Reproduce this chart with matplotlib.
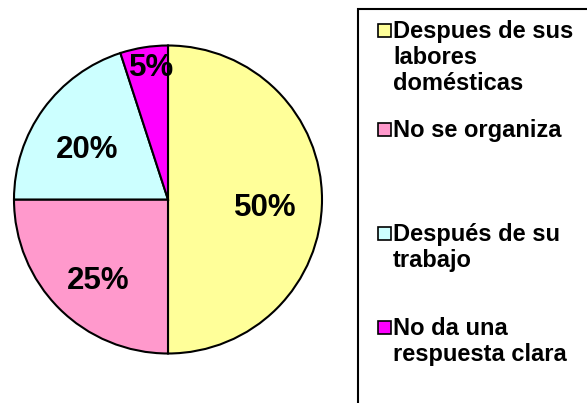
import matplotlib.pyplot as plt
from matplotlib.patches import Rectangle
import numpy as np

# Data
labels = ["Despues de sus\nlabores\ndomésticas",
          "No se organiza",
          "Después de su\ntrabajo",
          "No da una\nrespuesta clara"]
values = [50, 25, 20, 5]
colors = ["#FFFF99", "#FF99CC", "#CCFFFF", "#FF00FF"]

# label placement per wedge: distance (fraction of radius), angle shift (deg)
label_dist = [0.635, 0.68, 0.63, 0.88]
label_shift = [-3, 3, 3, -2]

W, H = 587, 403
plt.rcParams['font.family'] = ['Liberation Sans', 'DejaVu Sans']
fig = plt.figure(figsize=(W / 100, H / 100), dpi=100)

# pie axes: centre (168, 199.5) px, radius 154 px
cx, cy, r = 168, 199.5, 154
pad = 1.05
ax = fig.add_axes([(cx - r * pad) / W, (H - cy - r * pad) / H,
                   2 * r * pad / W, 2 * r * pad / H])
wedges, _ = ax.pie(values, colors=colors, startangle=90, counterclock=False,
                   radius=1, wedgeprops=dict(edgecolor="black", linewidth=1.5))
ax.set_xlim(-pad, pad)
ax.set_ylim(-pad, pad)
ax.set_aspect("equal")
ax.axis("off")

for w, v, d, s in zip(wedges, values, label_dist, label_shift):
    ang = np.deg2rad((w.theta1 + w.theta2) / 2 + s)
    ax.text(d * np.cos(ang), d * np.sin(ang), f"{v}%", ha="center",
            va="center_baseline", fontsize=22.5, fontweight="bold")

# legend box, cut off at right and bottom
fig.patches.append(Rectangle((358 / W, -0.1), 1.0, 1.1 - 8.5 / H,
                             transform=fig.transFigure, fill=False,
                             edgecolor="black", linewidth=1.5))

first_baselines = [38, 137, 241, 335]
line_step = 26
for lab, col, yb in zip(labels, colors, first_baselines):
    fig.patches.append(Rectangle((378 / W, 1 - (yb - 1) / H), 13 / W, 13 / H,
                                 transform=fig.transFigure, facecolor=col,
                                 edgecolor="black", linewidth=1.2))
    for i, line in enumerate(lab.split("\n")):
        fig.text(393 / W, 1 - (yb + i * line_step) / H, line, ha="left",
                 va="baseline", fontsize=17, fontweight="bold")

fig.savefig("out.png", dpi=100)
